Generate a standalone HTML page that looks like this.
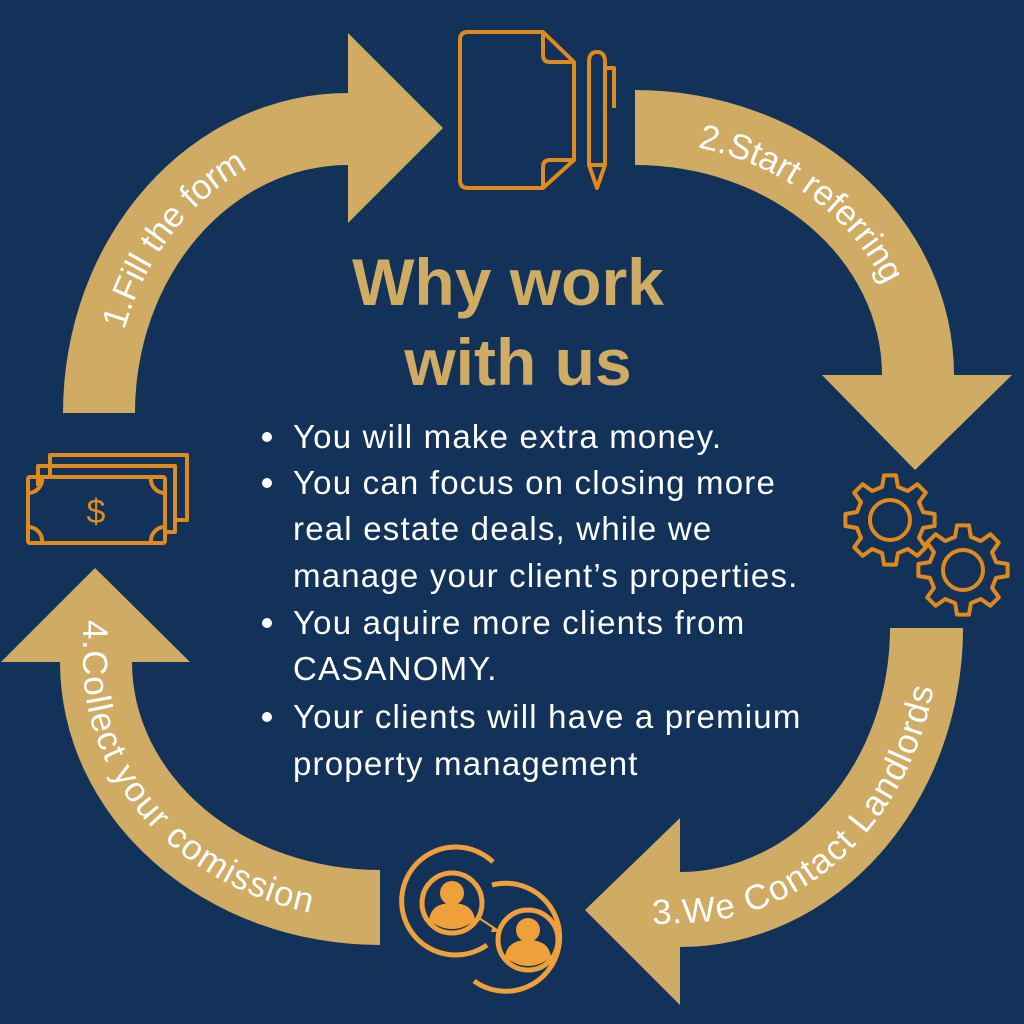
<!DOCTYPE html>
<html><head><meta charset="utf-8"><style>
html,body{margin:0;padding:0;background:#12325a;}
svg{display:block}
</style></head><body>
<svg width="1024" height="1024" viewBox="0 0 1024 1024" xmlns="http://www.w3.org/2000/svg">
<rect width="1024" height="1024" fill="#12325a"/>
<g fill="#cfab63">
<path d="M63 413 A285 320 0 0 1 348 93 L348 33 L443 128 L348 223 L348 165 A213 248 0 0 0 135 413 Z"/>
<path d="M635 90 A319 285 0 0 1 954 375 L1012 375 L915 470 L822 375 L882 375 A247 210 0 0 0 635 165 Z"/>
<path d="M963 628 A283 319 0 0 1 680 947 L680 1005 L585 910 L680 818 L680 872 A210 244 0 0 0 890 628 Z"/>
<path d="M380 945 A320 283 0 0 1 60 662 L1 662 L95 568 L190 662 L132 662 A248 208 0 0 0 380 870 Z"/>
</g>
<defs>
<path id="p1" d="M99 413 A249 284 0 0 1 348 129"/>
<path id="p2" d="M635 128 A283 247 0 0 1 918 375"/>
<path id="p3" d="M600 914 L680 910 A246 282 0 0 0 926 628"/>
<path id="p4" d="M96 590 L96 662 A284 245 0 0 0 380 907"/>
</defs>
<g fill="#ffffff" font-family="Liberation Sans, sans-serif" font-size="35" letter-spacing="0.5">
<text dy="14"><textPath href="#p1" startOffset="88">1.Fill the form</textPath></text>
<text dy="13"><textPath href="#p2" startOffset="66">2.Start referring</textPath></text>
<text dy="13"><textPath href="#p3" startOffset="52">3.We Contact Landlords</textPath></text>
<text dy="13"><textPath href="#p4" startOffset="30">4.Collect your comission</textPath></text>
</g>
<!-- document & pen -->
<g fill="none" stroke="#df8a1c" stroke-width="4" stroke-linejoin="round">
<path d="M468 32 L543 32 L574 62 L574 160 L543 188 L468 188 Q460 188 460 180 L460 40 Q460 32 468 32 Z"/>
<path d="M543 32 L543 55 Q543 62 550 62 L574 62"/>
<path d="M574 160 L550 160 Q543 160 543 167 L543 188"/>
<path d="M589 62 Q589 52 597 52 Q605 52 605 62 L605 165 L597 188 L589 165 Z"/>
<path d="M589 165 L605 165"/>
<path d="M605 68 L614 68 L614 108"/>
</g>
<!-- gears -->
<g fill="none" stroke="#df8a1c" stroke-width="4" stroke-linejoin="round">
<path id="g1" d=""/>
<path id="g2" d=""/>
<circle cx="890" cy="520" r="20"/>
<circle cx="963" cy="570" r="20"/>
</g>
<!-- money -->
<g fill="none" stroke="#df8a1c" stroke-width="4" stroke-linejoin="round">
<path d="M50 475 L50 455 L187 455 L187 520 L175 520"/>
<path d="M38 486 L38 466 L175 466 L175 532 L165 532"/>
<rect x="28" y="477" width="137" height="66" rx="2"/>
<path d="M28 493 A14 14 0 0 0 42 477"/>
<path d="M151 477 A14 14 0 0 0 165 493"/>
<path d="M28 527 A14 14 0 0 1 42 543"/>
<path d="M151 543 A14 14 0 0 1 165 527"/>
</g>
<text x="96" y="523" fill="#df8a1c" font-family="Liberation Sans, sans-serif" font-size="34" text-anchor="middle">$</text>
<!-- people -->
<g fill="none" stroke="#f0a03a" stroke-width="5">
<circle cx="452" cy="903" r="30"/>
<circle cx="528" cy="940" r="30"/>
<path d="M493 862 A54 54 0 1 0 487 945"/>
<path d="M492 885 A54 54 0 1 1 474 981"/>
<path d="M479 918 L497 930" stroke-width="2"/>
</g>
<g fill="#f0a03a">
<path d="M493 926 L499 932 L491 932 Z"/>
<circle cx="452" cy="893" r="12"/>
<path d="M429 920 Q431 903 452 903 Q473 903 475 920 Q464 929 452 929 Q440 929 429 920 Z"/>
<circle cx="528" cy="930" r="12"/>
<path d="M505 957 Q507 940 528 940 Q549 940 551 957 Q540 966 528 966 Q516 966 505 957 Z"/>
</g>
<!-- title -->
<g fill="#cfab63" font-family="Liberation Sans, sans-serif" font-weight="bold" font-size="66" text-anchor="middle">
<text x="508" y="305">Why work</text>
<text x="518" y="385">with us</text>
</g>
<g fill="#ffffff" font-family="Liberation Sans, sans-serif" font-size="33" letter-spacing="1.2">
<text x="293" y="448">You will make extra money.</text>
<text x="293" y="494">You can focus on closing more</text>
<text x="293" y="540">real estate deals, while we</text>
<text x="293" y="587">manage your client’s properties.</text>
<text x="293" y="634">You aquire more clients from</text>
<text x="293" y="680">CASANOMY.</text>
<text x="293" y="728">Your clients will have a premium</text>
<text x="293" y="775">property management</text>
</g>
<g fill="#ffffff">
<circle cx="267" cy="437" r="5"/>
<circle cx="267" cy="483" r="5"/>
<circle cx="267" cy="623" r="5"/>
<circle cx="267" cy="717" r="5"/>
</g>
</svg>
<script>
function gear(cx,cy,ro,ri,n){var d="",step=2*Math.PI/n;for(var i=0;i<n;i++){var a=i*step-Math.PI/2;var pts=[[ri,a-step*0.3],[ro,a-step*0.17],[ro,a+step*0.17],[ri,a+step*0.3]];pts.forEach(function(p,j){var x=cx+p[0]*Math.cos(p[1]),y=cy+p[0]*Math.sin(p[1]);d+=(i==0&&j==0?"M":"L")+x.toFixed(1)+" "+y.toFixed(1)+" ";});}return d+"Z";}
document.getElementById("g1").setAttribute("d",gear(890,520,45,34,8));
document.getElementById("g2").setAttribute("d",gear(963,570,45,34,8));
</script>
</body></html>
